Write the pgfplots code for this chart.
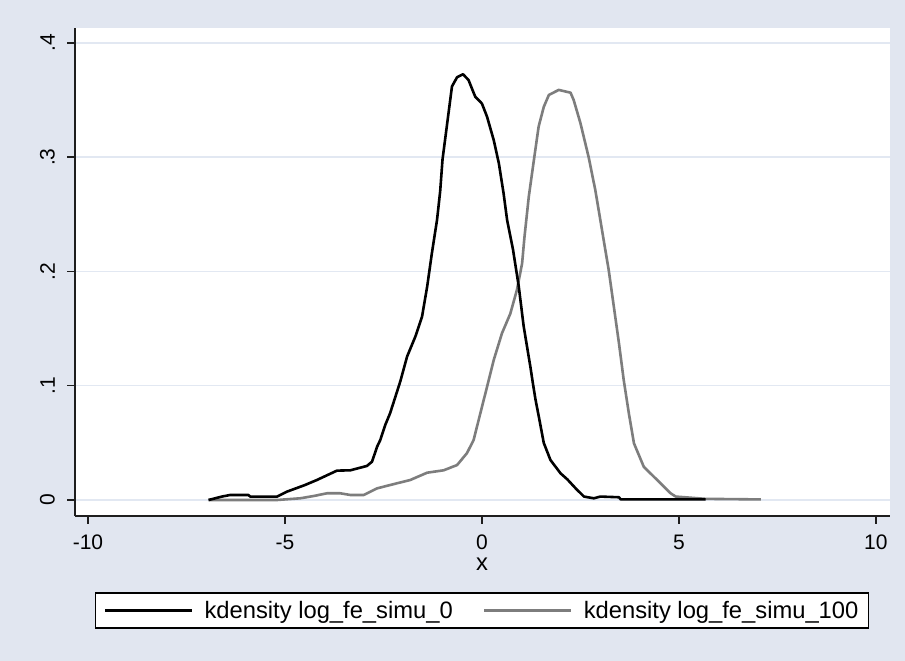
\documentclass[border=0pt]{standalone}
\usepackage{fontspec}
\setmainfont{Liberation Sans}
\usepackage{pgfplots}
\pgfplotsset{compat=1.18}
\definecolor{bgc}{RGB}{225,230,240}
\definecolor{gridc}{RGB}{226,232,242}
\definecolor{grayc}{RGB}{125,125,125}
\definecolor{axc}{RGB}{30,30,30}
\begin{document}
\begin{tikzpicture}[x=1pt,y=1pt]
\fill[bgc] (0,0) rectangle (905,661);
\begin{axis}[
  at={(75pt,145pt)}, anchor=south west,
  scale only axis, width=815pt, height=488pt,
  xmin=-10.33, xmax=10.36, ymin=-0.014, ymax=0.4131,
  axis x line*=bottom, axis y line*=left,
  axis line style={line width=1.5pt, axc, -},
  axis background/.style={fill=white},
  xtick={-10,-5,0,5,10}, xticklabels={-10,-5,0,5,10},
  ytick={0,0.1,0.2,0.3,0.4}, yticklabels={0,.1,.2,.3,.4},
  tick style={line width=1.5pt, axc},
  major tick length=8pt, tick align=outside,
  ymajorgrids, major grid style={gridc, line width=1.5pt},
  /pgf/number format/assume math mode=true,
  xticklabel style={font=\fontsize{21}{25}\selectfont, anchor=north, inner xsep=0pt, inner ysep=11pt},
  yticklabel style={font=\fontsize{21}{25}\selectfont, rotate=90, anchor=south, inner xsep=0pt, inner ysep=12pt},
  xlabel={x},
  xlabel style={font=\fontsize{23.75}{28}\selectfont, at={(0.4994,-0.1127)}, anchor=base, inner sep=0pt},
  legend columns=2,
  legend style={at={(0.4994,-0.1936)}, anchor=center, draw=black, line width=1.5pt, fill=white,
    font=\fontsize{23.75}{28}\selectfont, inner xsep=8pt, inner ysep=6pt,
    nodes={inner sep=2pt},
    /tikz/every even column/.append style={column sep=28pt},
    /tikz/every odd column/.append style={column sep=9pt}},
  legend image code/.code={\draw[#1, line width=3pt] (0pt,0pt) -- (87pt,0pt);},
  every axis plot/.append style={line join=round},
]
\addplot[grayc, line width=2.6pt, forget plot] table {
-6.94 0.0
-5.2 0.0
-4.61 0.0015
-4.27 0.0035
-3.93 0.0059
-3.60 0.0059
-3.34 0.0044
-3.0 0.0044
-2.66 0.0102
-2.16 0.0146
-1.82 0.0175
-1.39 0.0239
-0.97 0.026
-0.63 0.0306
-0.38 0.041
-0.21 0.0525
-0.04 0.0759
0.13 0.099
0.30 0.1225
0.51 0.146
0.72 0.163
0.89 0.184
1.02 0.207
1.08 0.23
1.19 0.2655
1.32 0.2976
1.44 0.3268
1.57 0.344
1.70 0.3545
1.95 0.3589
2.25 0.3565
2.33 0.350
2.50 0.330
2.71 0.300
2.88 0.271
3.05 0.236
3.22 0.201
3.35 0.169
3.48 0.137
3.60 0.105
3.73 0.0759
3.86 0.0496
4.11 0.029
4.45 0.0175
4.79 0.0059
4.92 0.003
5.68 0.001
7.08 0.0005
};
\addplot[black, line width=2.6pt] table {
-6.94 0.0
-6.6 0.003
-6.39 0.0044
-5.93 0.0044
-5.88 0.003
-5.2 0.003
-4.95 0.0073
-4.5 0.013
-4.19 0.0175
-3.68 0.0257
-3.34 0.026
-2.92 0.0298
-2.79 0.0335
-2.66 0.0467
-2.58 0.0525
-2.45 0.066
-2.33 0.076
-2.2 0.09
-2.07 0.104
-1.90 0.1255
-1.69 0.143
-1.52 0.1605
-1.39 0.1867
-1.27 0.216
-1.14 0.245
-1.06 0.27
-1.0 0.298
-0.88 0.330
-0.76 0.362
-0.63 0.370
-0.48 0.3726
-0.34 0.3676
-0.17 0.353
0.0 0.347
0.13 0.3355
0.30 0.315
0.43 0.2947
0.55 0.2684
0.64 0.245
0.79 0.219
0.935 0.187
1.06 0.152
1.23 0.1167
1.29 0.103
1.36 0.088
1.45 0.072
1.57 0.050
1.74 0.035
1.995 0.0234
2.17 0.018
2.38 0.0102
2.59 0.003
2.84 0.0015
3.01 0.003
3.48 0.0024
3.52 0.0006
5.68 0.0006
};
\addlegendentry{kdensity log\_fe\_simu\_0}
\addlegendimage{grayc}
\addlegendentry{kdensity log\_fe\_simu\_100}
\end{axis}
\end{tikzpicture}
\end{document}
